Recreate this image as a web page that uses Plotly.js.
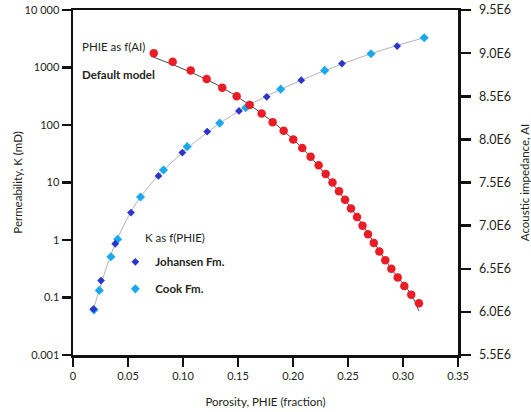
<!DOCTYPE html>
<html>
<head>
<meta charset="utf-8">
<script src="https://cdn.plot.ly/plotly-3.0.1.min.js"></script>
<style>
html,body{margin:0;padding:0;background:#fff;}
#chart{width:531px;height:412px;}
</style>
</head>
<body>
<div id="chart"></div>
<script>
// Johansen Fm. (K as f(PHIE))
const phiJohansen = [0.0186, 0.0255, 0.0384, 0.0527, 0.0777, 0.0994, 0.122, 0.1509, 0.1761, 0.2075, 0.2445, 0.2947];
const kJohansen   = [0.063, 0.197, 0.86, 3.0, 13.0, 33.2, 77, 176, 309, 601, 1170, 2360];
// Cook Fm. (K as f(PHIE))
const phiCook = [0.0191, 0.0239, 0.0345, 0.0406, 0.0614, 0.0823, 0.1038, 0.1334, 0.157, 0.1888, 0.2288, 0.2709, 0.3193];
const kCook   = [0.061, 0.133, 0.51, 1.03, 5.6, 16.5, 42, 108, 199, 420, 890, 1735, 3300];
// Default model: PHIE as f(AI)
const aiModel  = [9.0e6, 8.9e6, 8.8e6, 8.7e6, 8.6e6, 8.5e6, 8.4e6, 8.3e6, 8.2e6, 8.1e6,
                  8.0e6, 7.9e6, 7.8e6, 7.7e6, 7.6e6, 7.5e6, 7.4e6, 7.3e6, 7.2e6, 7.1e6,
                  7.0e6, 6.9e6, 6.8e6, 6.7e6, 6.6e6, 6.5e6, 6.4e6, 6.3e6, 6.2e6, 6.1e6];
const phiModel = [0.0734, 0.0906, 0.107, 0.1215, 0.1357, 0.1488, 0.1606, 0.1715, 0.1815, 0.1915,
                  0.2002, 0.2084, 0.216, 0.2233, 0.2297, 0.2359, 0.2418, 0.2473, 0.2527, 0.2582,
                  0.2632, 0.2682, 0.2734, 0.2785, 0.2839, 0.2894, 0.2952, 0.3012, 0.3075, 0.3145];
// fitted curves
const phiKFit = [0.0186, 0.0384, 0.0614, 0.0994, 0.1509, 0.2075, 0.2709, 0.3193];
const kFit    = [0.062, 0.86, 5.6, 33, 176, 600, 1735, 3300];
const phiAIFit = [0.072, 0.1357, 0.2002, 0.2473, 0.2894, 0.3075, 0.3145];
const aiFit    = [8.96e6, 8.6e6, 8.0e6, 7.3e6, 6.5e6, 6.2e6, 6.01e6];
// ticks
const xTicks = [0, 0.05, 0.10, 0.15, 0.20, 0.25, 0.30, 0.35];
const xTickText = ['0', '0.05', '0.10', '0.15', '0.20', '0.25', '0.30', '0.35'];
const kTicks = [0.01, 0.1, 1, 10, 100, 1000, 10000];
const kTickText = ['0.001', '0.1', '1', '10', '100', '1000', '10 000'];
const aiTicks = [5.5e6, 6.0e6, 6.5e6, 7.0e6, 7.5e6, 8.0e6, 8.5e6, 9.0e6, 9.5e6];
const aiTickText = ['5.5E6', '6.0E6', '6.5E6', '7.0E6', '7.5E6', '8.0E6', '8.5E6', '9.0E6', '9.5E6'];

const FONT = 'Lato, "Noto Sans", sans-serif';
const TXT = '#231f20';

const traces = [
  {x: phiKFit, y: kFit, mode: 'lines', line: {color: '#b3b3b3', width: 1, shape: 'spline'},
   showlegend: false, hoverinfo: 'skip', xaxis: 'x', yaxis: 'y'},
  {x: phiCook, y: kCook, mode: 'markers', name: 'Cook Fm.', legendgroup: 'b', legendrank: 2,
   marker: {symbol: 'diamond', size: 7, color: '#1ba8ec'}, xaxis: 'x', yaxis: 'y'},
  {x: phiJohansen, y: kJohansen, mode: 'markers', name: 'Johansen Fm.', legendgroup: 'a', legendrank: 1,
   marker: {symbol: 'diamond', size: 6, color: '#2b35cc'}, xaxis: 'x', yaxis: 'y'},
  {x: phiAIFit, y: aiFit, mode: 'lines', line: {color: '#4a4a4a', width: 1, shape: 'spline'},
   showlegend: false, hoverinfo: 'skip', xaxis: 'x', yaxis: 'y2'},
  {x: phiModel, y: aiModel, mode: 'markers', name: 'PHIE as f(AI)', showlegend: false,
   marker: {symbol: 'circle', size: 8.5, color: '#ea1d27'}, xaxis: 'x', yaxis: 'y2'}
];

const axCommon = {
  showgrid: false, zeroline: false, showline: true, linecolor: '#111', linewidth: 2.5,
  ticks: 'outside', ticklen: 9, tickwidth: 2.5, tickcolor: '#111',
  tickfont: {family: FONT, size: 11, color: TXT}
};

const layout = {
  width: 531, height: 412,
  margin: {l: 73, r: 73, t: 10, b: 57, pad: 0},
  paper_bgcolor: '#fff', plot_bgcolor: '#fff',
  font: {family: FONT, size: 11, color: TXT},
  xaxis: Object.assign({}, axCommon, {
    range: [0, 0.35], tickmode: 'array', tickvals: xTicks, ticktext: xTickText, mirror: true,
    title: {text: 'Porosity, PHIE (fraction)', font: {family: FONT, size: 11.5, color: TXT}, standoff: 17}
  }),
  yaxis: Object.assign({}, axCommon, {
    type: 'log', range: [-2, 4], tickmode: 'array', tickvals: kTicks, ticktext: kTickText,
    title: {text: 'Permeability, K (mD)', font: {family: FONT, size: 11.5, color: TXT}, standoff: 0}
  }),
  yaxis2: Object.assign({}, axCommon, {
    overlaying: 'y', side: 'right', range: [5.5e6, 9.5e6], tickmode: 'array',
    tickvals: aiTicks, ticktext: aiTickText, ticklen: 10, ticklabelstandoff: 6,
    tickfont: {family: FONT, size: 12.5, color: TXT},
    title: {text: 'Acoustic impedance, AI', font: {family: FONT, size: 11.5, color: TXT}, standoff: 12}
  }),
  showlegend: true,
  legend: {
    x: 0.11, y: 0.312, xanchor: 'left', yanchor: 'top', bgcolor: 'rgba(0,0,0,0)',
    font: {family: FONT, size: 11.5, color: TXT, weight: 'bold'},
    tracegroupgap: 8, itemsizing: 'trace'
  },
  annotations: [
    {xref: 'paper', yref: 'paper', x: 0.018, y: 0.893, xanchor: 'left', yanchor: 'middle', showarrow: false,
     text: 'PHIE as f(AI)', font: {family: FONT, size: 11.5, color: TXT}},
    {xref: 'paper', yref: 'paper', x: 0.018, y: 0.812, xanchor: 'left', yanchor: 'middle', showarrow: false,
     text: '<b>Default model</b>', font: {family: FONT, size: 11.5, color: TXT}},
    {xref: 'paper', yref: 'paper', x: 0.182, y: 0.342, xanchor: 'left', yanchor: 'middle', showarrow: false,
     text: 'K as f(PHIE)', font: {family: FONT, size: 11.5, color: TXT}}
  ]
};

Plotly.newPlot('chart', traces, layout, {displayModeBar: false, staticPlot: true});
</script>
</body>
</html>
